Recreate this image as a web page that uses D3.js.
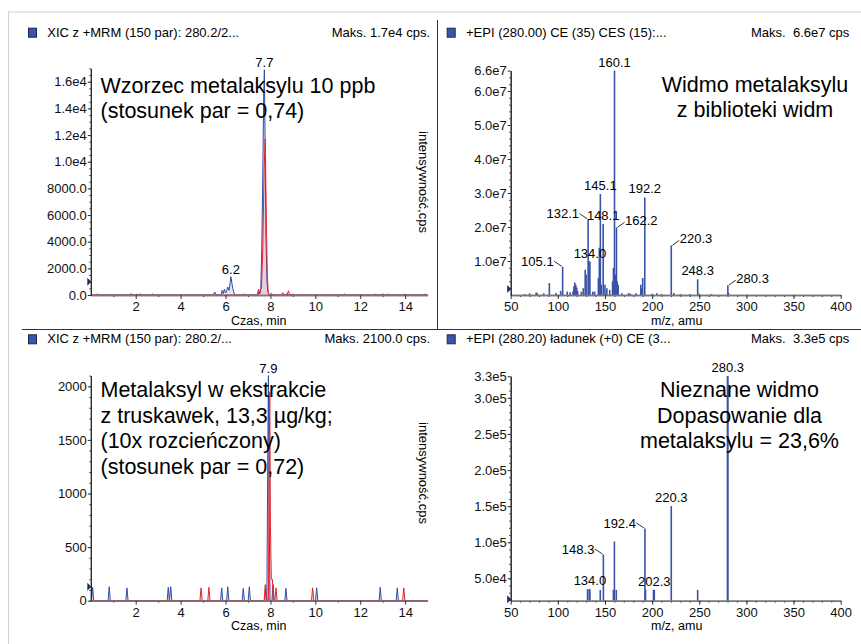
<!DOCTYPE html>
<html>
<head>
<meta charset="utf-8">
<script src="https://cdnjs.cloudflare.com/ajax/libs/d3/7.8.5/d3.min.js"></script>
<style>
body { margin: 0; background: #fff; }
svg { display: block; font-family: "Liberation Sans", Arial, sans-serif; }
</style>
</head>
<body>
<script>
(function(){
'use strict';

var width = 861;
var height = 644;

// chromatograms: [time, cps]
var chrom1Blue = [[0,0],[0.25,0],[0.3,80],[0.35,0],[1.75,0],[1.8,110],[1.85,0],[2.15,0],[2.2,90],[2.25,0],
	[2.7,0],[2.75,80],[2.8,0],[5.45,0],[5.52,220],[5.58,0],[5.8,0],[5.85,350],[5.9,100],[5.95,450],[6.0,150],
	[6.05,300],[6.1,600],[6.16,350],[6.24,1370],[6.32,500],[6.4,0],[6.75,0],[6.8,90],[6.85,0],[7.45,0],[7.49,300],
	[7.53,100],[7.57,500],[7.61,3000],[7.66,9000],[7.7,15000],[7.73,16900],[7.76,12000],[7.8,4500],[7.85,900],
	[7.9,150],[7.95,0],[8.05,130],[8.1,0],[8.7,0],[8.75,150],[8.8,0],[8.95,0],[9.0,90],[9.05,0],[11.25,0],
	[11.3,80],[11.35,0],[12.6,0],[12.65,80],[12.7,0],[13.9,0],[13.95,80],[14.0,0],[14.85,0],[14.9,90],[14.95,0],
	[15,0]];
var chrom1Red = [[0,0],[2.0,0],[2.05,90],[2.1,0],[7.42,0],[7.47,450],[7.52,100],[7.6,600],[7.66,3500],[7.72,9500],
	[7.77,11700],[7.81,6500],[7.86,1500],[7.9,200],[7.95,0],[8.5,0],[8.55,180],[8.6,0],[8.75,0],[8.8,320],
	[8.85,120],[8.9,0],[12.95,0],[13.0,100],[13.05,0],[13.2,0],[13.25,90],[13.3,0],[15,0]];
var chrom1LabelT = [7.73, 6.24];

var chrom2Blue = [[0,0],[0.03,0],[0.08,125],[0.13,0],[0.77,0],[0.82,130],[0.87,0],[1.56,0],[1.61,120],[1.66,0],
	[3.4,0],[3.45,125],[3.5,0],[3.56,130],[3.61,0],[5.78,0],[5.83,120],[5.88,0],[6.05,0],[6.1,130],[6.15,0],
	[6.74,0],[6.79,115],[6.84,0],[7.01,0],[7.06,130],[7.11,0],[7.74,0],[7.79,120],[7.84,0],[7.88,1300],[7.91,2100],
	[7.94,900],[7.98,0],[8.07,0],[8.12,150],[8.17,0],[8.64,0],[8.69,115],[8.74,0],[10.01,0],[10.06,120],[10.11,0],
	[12.84,0],[12.89,125],[12.94,0],[13.6,0],[13.65,120],[13.7,0],[15,0]];
var chrom2Red = [[0,0],[4.86,0],[4.91,120],[4.96,0],[5.21,0],[5.26,125],[5.31,0],[7.72,0],[7.77,150],[7.82,0],
	[7.91,0],[7.94,1000],[7.97,1950],[8.0,700],[8.04,200],[8.09,200],[8.13,0],[8.2,0],[8.25,120],[8.3,0],
	[9.83,0],[9.88,120],[9.93,0],[13.89,0],[13.94,120],[13.99,0],[15,0]];
var chrom2LabelT = [7.91];

// spectra: m/z and cps
var spec1Mz = [65, 70, 77, 78, 85, 91, 98, 103, 105.1, 110, 113, 116, 117, 118, 119, 120, 121, 125, 127, 129,
	130, 132.1, 133, 134.0, 137, 139, 143, 144, 145.1, 146, 148.1, 150, 152, 155, 158, 159, 160.1, 161, 162.2,
	163, 164, 168, 175, 177, 183, 188, 189, 190, 192.2, 200, 205, 210, 220.3, 223, 230, 240, 248.3, 250, 263,
	280.3, 281];
var spec1Val = [3e5, 5e5, 7e5, 6e5, 5e5, 3.5e6, 6e5, 1.2e6, 8.3e6, 1e6, 8e5, 1e6, 2.5e6, 3.7e6, 3e6, 2.2e6,
	1.2e6, 1e6, 2e6, 7.4e6, 6e6, 2.23e7, 1e7, 9.8e6, 1e6, 1e6, 5e6, 1.39e7, 2.97e7, 3e6, 2.09e7, 3e6, 2e6,
	1.5e6, 4e6, 8e6, 6.6e7, 6e6, 1.99e7, 4e6, 3e6, 5e5, 6e5, 4e5, 5e5, 3e6, 2e6, 5e6, 2.87e7, 4e5, 5e5, 3e5,
	1.46e7, 6e5, 3e5, 3e5, 4.6e6, 4e5, 3e5, 2.9e6, 6e5];
var spec1LabelMz = [160.1, 145.1, 192.2, 148.1, 134.0, 248.3, 132.1, 105.1, 162.2, 220.3, 280.3];
var spec1LabelSide = ['top', 'top', 'top', 'top', 'top', 'top', 'left', 'left', 'right', 'right', 'right'];

var spec2Mz = [131.5, 133.3, 134.0, 145.0, 148.3, 158.9, 160.0, 162.0, 192.4, 193.0, 201.4, 202.3, 220.3,
	248.3, 279.9, 280.3];
var spec2Val = [3.5e4, 3.5e4, 3.5e4, 3.4e4, 8.3e4, 3.4e4, 1.01e5, 3.4e4, 1.19e5, 3.4e4, 3.4e4, 3.4e4, 1.5e5,
	3.4e4, 3.3e5, 3.3e5];
var spec2LabelMz = [280.3, 220.3, 192.4, 148.3, 134.0, 202.3];
var spec2LabelSide = ['top', 'top', 'left', 'left', 'top', 'top'];

// axes
var timeTicks = [2, 4, 6, 8, 10, 12, 14];
var mzTicks = [50, 100, 150, 200, 250, 300, 350, 400];
var chrom1YTicks = [0, 2000, 4000, 6000, 8000, 10000, 12000, 14000, 16000];
var chrom1YLabels = ['0.0', '2000.0', '4000.0', '6000.0', '8000.0', '1.0e4', '1.2e4', '1.4e4', '1.6e4'];
var spec1YTicks = [1e7, 2e7, 3e7, 4e7, 5e7, 6e7, 6.6e7];
var spec1YLabels = ['1.0e7', '2.0e7', '3.0e7', '4.0e7', '5.0e7', '6.0e7', '6.6e7'];
var chrom2YTicks = [0, 500, 1000, 1500, 2000];
var chrom2YLabels = ['0', '500', '1000', '1500', '2000'];
var spec2YTicks = [5e4, 1e5, 1.5e5, 2e5, 2.5e5, 3e5, 3.3e5];
var spec2YLabels = ['5.0e4', '1.0e5', '1.5e5', '2.0e5', '2.5e5', '3.0e5', '3.3e5'];

var headers = ['XIC z +MRM (150 par): 280.2/2...', '+EPI (280.00) CE (35) CES (15):...',
	'XIC z +MRM (150 par): 280.2/...', '+EPI (280.20) \u0142adunek (+0) CE (3...'];
var maxTexts = ['Maks. 1.7e4 cps.', 'Maks.  6.6e7 cps', 'Maks. 2100.0 cps.', 'Maks.  3.3e5 cps'];
var notes = [
	['Wzorzec metalaksylu 10 ppb', '(stosunek par = 0,74)'],
	['Widmo metalaksylu', 'z biblioteki widm'],
	['Metalaksyl w ekstrakcie', 'z truskawek, 13,3 \u00b5g/kg;', '(10x rozcie\u0144czony)', '(stosunek par = 0,72)'],
	['Nieznane widmo', 'Dopasowanie dla', 'metalaksylu = 23,6%']
];
var markerVals = [1000, 1.8e6, 130, 2.1e4];

var blue = '#2f4da6';
var red = '#e8232b';
var barBlue = '#3a53a8';

var svg = d3.select('body').append('svg')
	.attr('width', width)
	.attr('height', height);

// frame
svg.append('line').attr('x1', 8).attr('y1', 12).attr('x2', 861).attr('y2', 12).attr('stroke', '#cfcfcf');
svg.append('line').attr('x1', 8.5).attr('y1', 12).attr('x2', 8.5).attr('y2', 644).attr('stroke', '#cfcfcf');
svg.append('line').attr('x1', 437.5).attr('y1', 20).attr('x2', 437.5).attr('y2', 329).attr('stroke', '#333');
svg.append('line').attr('x1', 22).attr('y1', 329.5).attr('x2', 861).attr('y2', 329.5).attr('stroke', '#333');

var panels = [
	{kind: 'chrom', x0: 90.8, x1: 427.6, yb: 295, yt: 68.4, ydom: [0, 17000], yTicks: chrom1YTicks,
		yLabels: chrom1YLabels, yMinor: d3.range(0, 17001, 500), blueData: chrom1Blue, redData: chrom1Red,
		labelT: chrom1LabelT, hx: 28, hy: 36.7, hr: 430, noteX: 100.5, noteY: 93.3, noteStep: 25,
		noteAnchor: 'start', titleY: 324.5, sideX: 419, sideY: 182},
	{kind: 'spec', x0: 510.7, x1: 840.7, yb: 295, yt: 70.6, ydom: [0, 6.6e7], yTicks: spec1YTicks,
		yLabels: spec1YLabels, yMinor: d3.range(2e6, 6.6e7, 2e6), mz: spec1Mz, val: spec1Val,
		labelMz: spec1LabelMz, labelSide: spec1LabelSide, hx: 446.7, hy: 36.7, hr: 849.3, noteX: 755,
		noteY: 91.7, noteStep: 25, noteAnchor: 'middle', titleY: 324.5},
	{kind: 'chrom', x0: 90.8, x1: 427.6, yb: 600.7, yt: 375.6, ydom: [0, 2100], yTicks: chrom2YTicks,
		yLabels: chrom2YLabels, yMinor: d3.range(0, 2101, 100), blueData: chrom2Blue, redData: chrom2Red,
		labelT: chrom2LabelT, hx: 28, hy: 343.3, hr: 430, noteX: 100.5, noteY: 397, noteStep: 25.7,
		noteAnchor: 'start', titleY: 630, sideX: 419, sideY: 473},
	{kind: 'spec', x0: 510.7, x1: 840.7, yb: 600.7, yt: 376.2, ydom: [1.9e4, 3.3e5], yTicks: spec2YTicks,
		yLabels: spec2YLabels, yMinor: d3.range(2e4, 3.3e5, 1e4), mz: spec2Mz, val: spec2Val,
		labelMz: spec2LabelMz, labelSide: spec2LabelSide, hx: 446.7, hy: 343.3, hr: 849.3, noteX: 739.5,
		noteY: 396.7, noteStep: 25.8, noteAnchor: 'middle', titleY: 630}
];

function styleAxis(g, lineColor, lineWidth){
	g.select('.domain').attr('stroke', lineColor).attr('stroke-width', lineWidth);
	g.selectAll('.tick line').attr('stroke', '#333');
	g.selectAll('.tick text').attr('fill', '#111').style('font-size', '13px')
		.style('font-family', '"Liberation Sans", Arial, sans-serif');
}

function drawPanel(p, i){
	var g = svg.append('g');
	var x = p.kind === 'chrom' ?
		d3.scaleLinear().domain([0, 15]).range([p.x0, p.x1]) :
		d3.scaleLinear().domain([50, 400]).range([p.x0, p.x1]);
	var y = d3.scaleLinear().domain(p.ydom).range([p.yb, p.yt]);

	// header
	g.append('rect').attr('x', p.hx + 0.5).attr('y', p.hy - 8.5).attr('width', 8).attr('height', 9)
		.attr('fill', '#3a55a8').attr('stroke', '#1c2750');
	g.append('text').attr('x', p.hx + 19.3).attr('y', p.hy).style('font-size', '13px').text(headers[i]);
	g.append('text').attr('x', p.hr).attr('y', p.hy).attr('text-anchor', 'end')
		.style('font-size', '13px').style('white-space', 'pre').text(maxTexts[i]);

	// data
	if(p.kind === 'chrom'){
		var line = d3.line().x(function(d){ return x(d[0]); }).y(function(d){ return y(d[1]); });
		var area = d3.area().x(function(d){ return x(d[0]); }).y0(y(0)).y1(function(d){ return y(d[1]); });
		[[p.blueData, blue], [p.redData, red]].forEach(function(s){
			g.append('path').datum(s[0]).attr('d', area).attr('fill', s[1]).attr('fill-opacity', 0.12);
			g.append('path').datum(s[0]).attr('d', line).attr('fill', 'none')
				.attr('stroke', s[1]).attr('stroke-width', 1);
		});
		p.labelT.forEach(function(t){
			var top = d3.max(p.blueData.filter(function(d){ return Math.abs(d[0] - t) < 0.03; }),
				function(d){ return d[1]; });
			g.append('text').attr('x', x(t)).attr('y', y(top) - 2.5).attr('text-anchor', 'middle')
				.style('font-size', '13px').text(t.toFixed(1));
		});
	} else {
		var bars = p.mz.map(function(m, k){ return {mz: m, v: p.val[k]}; })
			.filter(function(d){ return d.v > p.ydom[0]; });
		g.selectAll('line.bar').data(bars).enter().append('line')
			.attr('class', 'bar')
			.attr('x1', function(d){ return x(d.mz); })
			.attr('x2', function(d){ return x(d.mz); })
			.attr('y1', y(p.ydom[0]))
			.attr('y2', function(d){ return y(d.v); })
			.attr('stroke', barBlue)
			.attr('stroke-width', 1.6);
		p.labelMz.forEach(function(m, k){
			var v = p.val[p.mz.indexOf(m)];
			var bx = x(m), by = y(v), side = p.labelSide[k];
			var txt = g.append('text').style('font-size', '13px').text(m.toFixed(1));
			if(side === 'top'){
				txt.attr('x', bx).attr('y', by - 4).attr('text-anchor', 'middle');
			} else if(side === 'left'){
				txt.attr('x', bx - 9).attr('y', by - 1).attr('text-anchor', 'end');
				g.append('line').attr('x1', bx - 8.5).attr('y1', by - 5.5).attr('x2', bx - 1).attr('y2', by - 0.5)
					.attr('stroke', '#333');
			} else {
				txt.attr('x', bx + 8.5).attr('y', by - 2.5);
				g.append('line').attr('x1', bx + 1).attr('y1', by).attr('x2', bx + 8).attr('y2', by - 5)
					.attr('stroke', '#333');
			}
		});
	}

	// axes
	var xTicks = p.kind === 'chrom' ? timeTicks : mzTicks;
	var xMinor = p.kind === 'chrom' ? d3.range(1, 15, 2) : d3.range(60, 400, 10);
	g.append('g').attr('transform', 'translate(0,' + p.yb + ')')
		.call(d3.axisBottom(x).tickValues(xMinor).tickSize(2).tickSizeOuter(0).tickFormat(''))
		.call(styleAxis, '#777', 1.6);
	g.append('g').attr('transform', 'translate(0,' + p.yb + ')')
		.call(d3.axisBottom(x).tickValues(xTicks).tickSize(4).tickPadding(3).tickSizeOuter(0))
		.call(styleAxis, '#777', 1.6);
	g.append('g').attr('transform', 'translate(' + p.x0 + ',0)')
		.call(d3.axisLeft(y).tickValues(p.yMinor).tickSize(1.5).tickSizeOuter(0).tickFormat(''))
		.call(styleAxis, '#222', 1);
	g.append('g').attr('transform', 'translate(' + p.x0 + ',0)')
		.call(d3.axisLeft(y).tickValues(p.yTicks).tickSize(3).tickPadding(1).tickSizeOuter(0)
			.tickFormat(function(d, k){ return p.yLabels[k]; }))
		.call(styleAxis, '#222', 1);

	// threshold marker
	var my = y(markerVals[i]);
	g.append('path').attr('d', 'M' + (p.x0 - 3.5) + ',' + (my - 4) + 'L' + (p.x0 + 0.5) + ',' + my +
		'L' + (p.x0 - 3.5) + ',' + (my + 4) + 'Z').attr('fill', '#1d2a5c');

	// titles
	g.append('text').attr('x', (p.x0 + p.x1) / 2 + (p.kind === 'chrom' ? -0.5 : 1)).attr('y', p.titleY)
		.attr('text-anchor', 'middle').style('font-size', '12.5px')
		.text(p.kind === 'chrom' ? 'Czas, min' : 'm/z, amu');
	if(p.kind === 'chrom'){
		g.append('text').attr('transform', 'translate(' + p.sideX + ',' + p.sideY + ') rotate(90)')
			.attr('text-anchor', 'middle').style('font-size', '13px').text('intensywno\u015b\u0107,cps');
	}

	// annotation
	notes[i].forEach(function(s, k){
		g.append('text').attr('x', p.noteX).attr('y', p.noteY + k * p.noteStep)
			.attr('text-anchor', p.noteAnchor).style('font-size', '21.5px').text(s);
	});
}

panels.forEach(drawPanel);

})();
</script>
</body>
</html>
